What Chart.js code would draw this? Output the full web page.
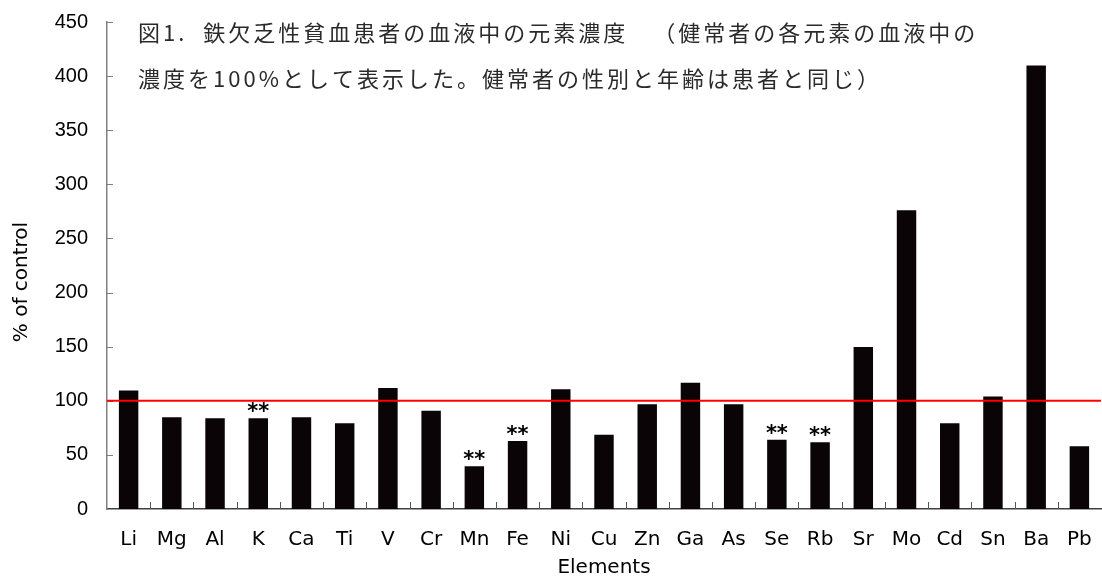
<!DOCTYPE html>
<html>
<head>
<meta charset="utf-8">
<script src="https://cdn.jsdelivr.net/npm/chart.js@4/dist/chart.umd.min.js"></script>
<style>
  html, body { margin: 0; padding: 0; background: #fff; }
  #wrap { width: 1102px; height: 578px; position: relative; }
</style>
</head>
<body>
<div id="wrap"><canvas id="chart"></canvas></div>
<script>
// Element concentrations in blood of iron-deficiency anaemia patients (% of control)
const elements = ['Li','Mg','Al','K','Ca','Ti','V','Cr','Mn','Fe','Ni','Cu','Zn','Ga','As','Se','Rb','Sr','Mo','Cd','Sn','Ba','Pb'];
const percentOfControl = [109.4, 84.8, 83.9, 83.9, 84.8, 79.3, 111.9, 90.9, 39.5, 62.9, 110.7, 68.7, 96.9, 116.6, 96.9, 64.1, 61.7, 149.6, 276, 79.3, 103.9, 409.8, 58];
const significance = ['', '', '', '**', '', '', '', '', '**', '**', '', '', '', '', '', '**', '**', '', '', '', '', '', ''];
const controlLevel = 100;
const yMin = 0;
const yMax = 450;
const yStep = 50;
const xTitle = 'Elements';
const yTitle = '% of control';
const titleLines = [
  '図1.  鉄欠乏性貧血患者の血液中の元素濃度　（健常者の各元素の血液中の',
  '濃度を100%として表示した。健常者の性別と年齢は患者と同じ）'
];

const LATIN = '"DejaVu Sans", sans-serif';
const DIGITS = '"Liberation Sans", Arial, sans-serif';
const CJK = '"Noto Sans CJK JP", "Noto Sans CJK SC", sans-serif';

// draws a string one glyph at a time with extra spacing between glyphs
function spacedText(ctx, text, x, y, spacing) {
  let cx = x;
  for (const ch of text) {
    ctx.fillText(ch, cx, y);
    cx += ctx.measureText(ch).width + spacing;
  }
}

const decorations = {
  id: 'decorations',
  afterDatasetsDraw(chart) {
    const { ctx, chartArea: a, scales: { x, y } } = chart;
    ctx.save();

    // inward tick marks on the value axis
    ctx.strokeStyle = '#808080';
    ctx.lineWidth = 1;
    for (let v = yMin + yStep; v <= yMax; v += yStep) {
      const py = Math.round(y.getPixelForValue(v)) + 0.5;
      ctx.beginPath();
      ctx.moveTo(a.left, py);
      ctx.lineTo(a.left + 6, py);
      ctx.stroke();
    }

    // inward tick marks between categories
    ctx.strokeStyle = '#555';
    for (let i = 1; i < elements.length; i++) {
      const px = Math.round((x.getPixelForValue(i - 1) + x.getPixelForValue(i)) / 2) + 0.5;
      ctx.beginPath();
      ctx.moveTo(px, a.bottom);
      ctx.lineTo(px, a.bottom - 7);
      ctx.stroke();
    }

    // control reference line
    const ry = y.getPixelForValue(controlLevel);
    ctx.strokeStyle = '#ff0000';
    ctx.lineWidth = 2;
    ctx.beginPath();
    ctx.moveTo(a.left, ry);
    ctx.lineTo(a.right, ry);
    ctx.stroke();

    // significance markers above bars
    ctx.fillStyle = '#000';
    ctx.font = 'bold 21px ' + LATIN;
    ctx.textAlign = 'center';
    ctx.textBaseline = 'alphabetic';
    significance.forEach((mark, i) => {
      if (!mark) return;
      const px = x.getPixelForValue(i);
      const top = y.getPixelForValue(percentOfControl[i]);
      const m = ctx.measureText(mark);
      const inkMid = (m.actualBoundingBoxAscent - m.actualBoundingBoxDescent) / 2;
      ctx.fillText(mark, px, top - 11 + inkMid);
    });

    ctx.restore();
  },
  afterDraw(chart) {
    const { ctx } = chart;
    ctx.save();

    // value axis title
    ctx.fillStyle = '#000';
    ctx.font = '20px ' + LATIN;
    ctx.textAlign = 'center';
    ctx.textBaseline = 'middle';
    ctx.translate(22, 282);
    ctx.rotate(-Math.PI / 2);
    ctx.fillText(yTitle, 0, 0);
    ctx.setTransform(1, 0, 0, 1, 0, 0);

    // caption inside the plot
    ctx.fillStyle = '#2a2a2a';
    ctx.font = '22px ' + CJK;
    ctx.textAlign = 'left';
    ctx.textBaseline = 'middle';
    spacedText(ctx, titleLines[0], 138, 33, 3);
    spacedText(ctx, titleLines[1], 138, 79, 3);

    ctx.restore();
  }
};

new Chart(document.getElementById('chart'), {
  type: 'bar',
  data: {
    labels: elements,
    datasets: [{
      data: percentOfControl,
      backgroundColor: '#0a0406',
      borderWidth: 0,
      barPercentage: 0.45,
      categoryPercentage: 1
    }]
  },
  options: {
    responsive: true,
    maintainAspectRatio: false,
    animation: false,
    devicePixelRatio: 1,
    layout: { padding: { left: 0, right: 1, top: 22, bottom: 0 } },
    plugins: { legend: { display: false }, tooltip: { enabled: false } },
    scales: {
      x: {
        grid: { display: false, drawTicks: false },
        border: { display: true, color: '#404040', width: 1.5 },
        ticks: { color: '#000', font: { family: LATIN, size: 20 }, padding: 19, maxRotation: 0, autoSkip: false },
        title: { display: true, text: xTitle, color: '#000', font: { family: LATIN, size: 20, lineHeight: 1 }, padding: { top: 0, bottom: 0 } },
        afterFit(s) { s.height = 69; s.paddingLeft = 0; s.paddingRight = 0; }
      },
      y: {
        min: yMin,
        max: yMax,
        grid: { display: false, drawTicks: false },
        border: { display: true, color: '#808080', width: 1.5 },
        ticks: { stepSize: yStep, color: '#000', font: { family: DIGITS, size: 20 }, padding: 19 },
        afterFit(s) { s.width = 107; s.paddingTop = 0; s.paddingBottom = 0; }
      }
    }
  },
  plugins: [decorations]
});
</script>
</body>
</html>
